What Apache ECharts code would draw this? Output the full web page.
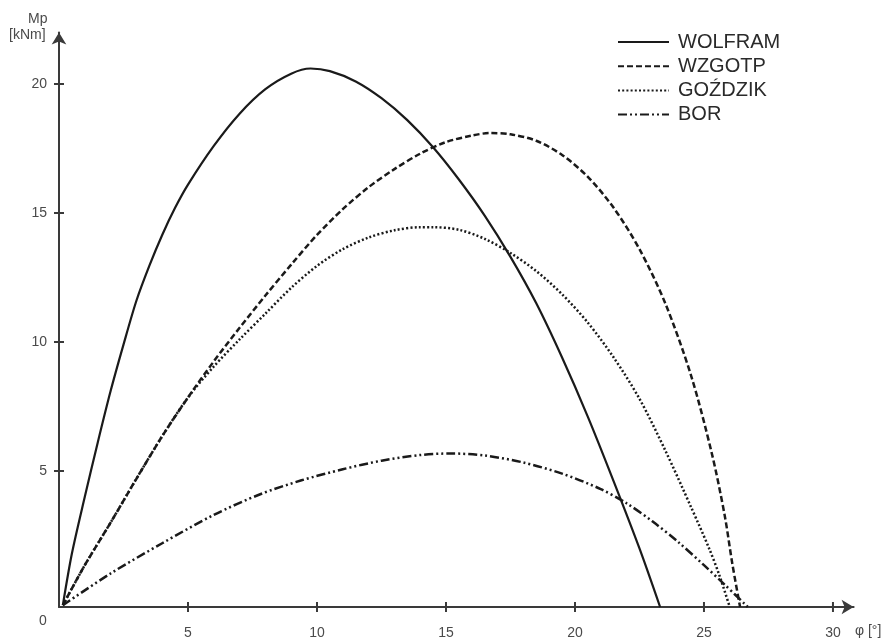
<!DOCTYPE html>
<html>
<head>
<meta charset="utf-8">
<script src="https://cdn.jsdelivr.net/npm/echarts@6/dist/echarts.min.js"></script>
<style>
html,body{margin:0;padding:0;background:#fff;}
#chart{width:885px;height:641px;}
</style>
</head>
<body>
<div id="chart"></div>
<script>
// ---- data ----
const seriesNames = ['WOLFRAM', 'WZGOTP', 'GOŹDZIK', 'BOR'];

const phiWolfram = [0.15, 0.5, 1.0, 1.5, 2.0, 2.5, 3.0, 3.5, 4.0, 4.5, 5.0, 6.0, 7.0, 8.0, 9.0, 9.75, 10.5, 11.5, 12.5, 13.5, 14.5, 15.5, 16.5, 17.5, 18.5, 19.5, 20.5, 21.5, 22.5, 23.3];
const mWolfram   = [-0.2, 1.8, 4.0, 6.1, 8.1, 9.9, 11.6, 12.95, 14.15, 15.2, 16.1, 17.6, 18.85, 19.8, 20.4, 20.6, 20.5, 20.1, 19.45, 18.6, 17.55, 16.3, 14.9, 13.3, 11.5, 9.4, 7.1, 4.6, 2.0, -0.27];

const phiWzgotp = [0.15, 1.0, 2.0, 3.0, 4.0, 5.0, 6.0, 7.0, 8.0, 9.0, 10.0, 11.0, 12.0, 13.0, 14.0, 15.0, 16.0, 16.7, 17.5, 18.5, 19.5, 20.5, 21.5, 22.5, 23.5, 24.5, 25.3, 25.8, 26.1, 26.4];
const mWzgotp   = [-0.2, 1.35, 3.0, 4.7, 6.35, 7.85, 9.25, 10.55, 11.8, 13.0, 14.15, 15.15, 16.0, 16.7, 17.3, 17.75, 18.0, 18.1, 18.05, 17.8, 17.25, 16.4, 15.2, 13.6, 11.5, 8.7, 5.7, 3.3, 1.4, -0.27];

const phiGozdzik = [0.15, 1.0, 2.0, 3.0, 4.0, 5.0, 6.0, 7.0, 8.0, 9.0, 10.0, 11.0, 12.0, 13.0, 14.0, 14.5, 15.5, 16.5, 17.5, 18.5, 19.5, 20.5, 21.5, 22.5, 23.5, 24.5, 25.2, 25.6, 26.0];
const mGozdzik   = [-0.2, 1.35, 3.0, 4.7, 6.35, 7.85, 9.05, 10.1, 11.1, 12.1, 12.95, 13.6, 14.05, 14.33, 14.45, 14.45, 14.35, 14.0, 13.45, 12.75, 11.85, 10.75, 9.4, 7.8, 5.8, 3.6, 2.0, 0.95, -0.27];

const phiBor = [0.15, 2.0, 4.0, 6.0, 7.8, 9.4, 11.0, 12.5, 14.0, 15.2, 16.5, 18.0, 19.5, 21.0, 22.0, 23.0, 24.0, 25.0, 25.8, 26.7];
const mBor   = [-0.2, 1.03, 2.2, 3.3, 4.1, 4.64, 5.07, 5.4, 5.62, 5.68, 5.6, 5.33, 4.9, 4.3, 3.75, 3.05, 2.25, 1.35, 0.6, -0.27];

const xTicks = [5, 10, 15, 20, 25, 30];
const yTicks = [5, 10, 15, 20];

// ---- chart ----
function pairs(xs, ys) { return xs.map((x, i) => [x, ys[i]]); }

const X_MIN = 0, X_MAX = 30.8, Y_MIN = -0.27, Y_MAX = 22;
const gridLeft = 59, gridTop = 32.4, gridWidth = 794.6, gridHeight = 574.6;
const axisColor = '#3a3a3a';
const labelColor = '#4a4a4a';
const lineColor = '#1a1a1a';
const font = 'Liberation Sans, Arial, sans-serif';

const styles = [
  { width: 2.2, type: 'solid' },
  { width: 2.5, type: [6, 3] },
  { width: 2.5, type: [2, 2.2] },
  { width: 2.5, type: [9, 3, 2, 3, 2, 3] }
];
const datasets = [
  pairs(phiWolfram, mWolfram),
  pairs(phiWzgotp, mWzgotp),
  pairs(phiGozdzik, mGozdzik),
  pairs(phiBor, mBor)
];

function crossTick(horizontalAxis) {
  return function (params, api) {
    const p = api.coord([api.value(0), api.value(1)]);
    const shape = horizontalAxis
      ? { x1: p[0], y1: p[1] - 5, x2: p[0], y2: p[1] + 5 }
      : { x1: p[0] - 5, y1: p[1], x2: p[0] + 5, y2: p[1] };
    return { type: 'line', shape: shape, style: { stroke: axisColor, lineWidth: 2 } };
  };
}

const chart = echarts.init(document.getElementById('chart'), null, { renderer: 'canvas' });
chart.setOption({
  animation: false,
  backgroundColor: '#fff',
  textStyle: { fontFamily: font },
  grid: { left: gridLeft, top: gridTop, width: gridWidth, height: gridHeight, containLabel: false },
  legend: {
    orient: 'vertical',
    left: 617,
    top: 32,
    padding: 0,
    itemWidth: 51,
    itemHeight: 14,
    itemGap: 4.2,
    data: seriesNames,
    itemStyle: { opacity: 0 },
    textStyle: { fontFamily: font, fontSize: 20, color: '#2a2a2a', lineHeight: 20, padding: [0, 0, 0, 4] }
  },
  xAxis: {
    type: 'value', min: X_MIN, max: X_MAX, position: 'bottom',
    axisLine: { show: true, onZero: false, lineStyle: { color: axisColor, width: 2 }, symbol: ['none', 'arrow'], symbolSize: [11, 12] },
    axisTick: { show: false },
    axisLabel: { show: true, margin: 19, fontSize: 14, color: labelColor, fontFamily: font, customValues: xTicks },
    splitLine: { show: false }
  },
  yAxis: {
    type: 'value', min: Y_MIN, max: Y_MAX, position: 'left',
    axisLine: { show: true, onZero: false, lineStyle: { color: axisColor, width: 2 }, symbol: ['none', 'arrow'], symbolSize: [11, 12] },
    axisTick: { show: false },
    axisLabel: { show: true, margin: 12, fontSize: 14, color: labelColor, fontFamily: font, customValues: yTicks },
    splitLine: { show: false }
  },
  graphic: [
    { type: 'text', left: 28, top: 12, style: { text: 'Mp', font: '14px ' + font, fill: labelColor } },
    { type: 'text', left: 9, top: 28, style: { text: '[kNm]', font: '14px ' + font, fill: labelColor } },
    { type: 'text', left: 855, top: 624, style: { text: 'φ [°]', font: '14px ' + font, fill: labelColor } },
    { type: 'text', left: 39, top: 614, style: { text: '0', font: '14px ' + font, fill: labelColor } }
  ],
  series: seriesNames.map((name, i) => ({
    name: name,
    type: 'line',
    data: datasets[i],
    showSymbol: false,
    symbol: 'none',
    smooth: 0.3,
    clip: false,
    lineStyle: { color: lineColor, width: styles[i].width, type: styles[i].type },
    itemStyle: { color: lineColor },
    emphasis: { disabled: true }
  })).concat([
    { type: 'custom', name: 'xTickMarks', silent: true, data: xTicks.map(v => [v, Y_MIN]), renderItem: crossTick(true), z: 3 },
    { type: 'custom', name: 'yTickMarks', silent: true, data: yTicks.map(v => [X_MIN, v]), renderItem: crossTick(false), z: 3 }
  ])
});
</script>
</body>
</html>
